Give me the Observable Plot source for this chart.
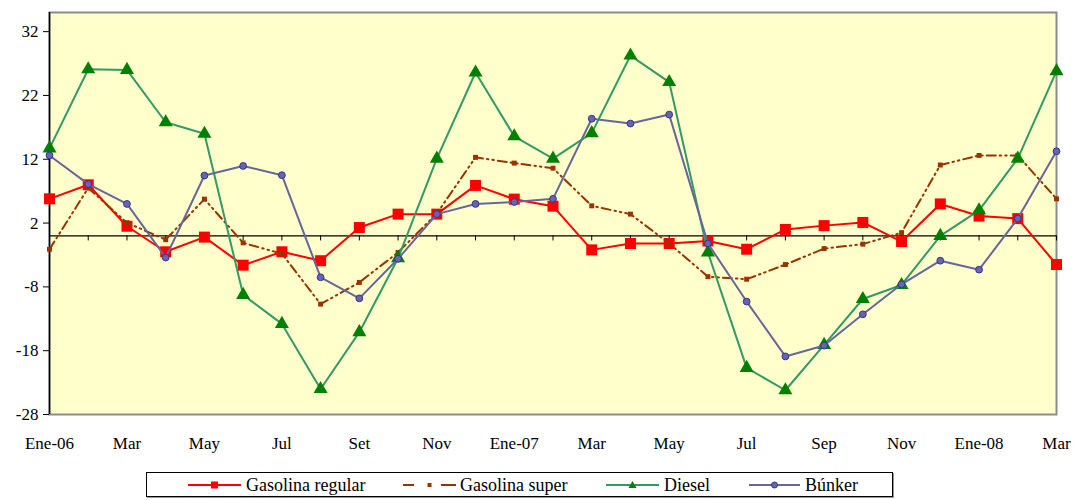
<!DOCTYPE html>
<html>
<head>
<meta charset="utf-8">
<script src="https://cdn.jsdelivr.net/npm/d3@7"></script>
<script src="https://cdn.jsdelivr.net/npm/@observablehq/plot@0.6"></script>
<style>
  body { margin: 0; background: white; }
  #wrap { position: relative; width: 1073px; height: 500px; font-family: 'Liberation Serif', 'Times New Roman', serif; }
  #legend { position: absolute; left: 146px; top: 472px; width: 747px; height: 25px; box-sizing: border-box; border: 1px solid black; box-shadow: 1px 1px 0 #999; background: white; }
  .sw { position: absolute; top: 479px; }
  .lt { position: absolute; top: 474px; font-size: 18px; line-height: 22px; color: black; white-space: nowrap; }
</style>
</head>
<body>
<div id="wrap">
  <div id="chart"></div>
  <div id="legend"></div>
  <svg class="sw" style="left:188px" width="53" height="12"><line x1="0" y1="6" x2="53" y2="6" stroke="#FF0000" stroke-width="2"/><rect x="23" y="2.5" width="7" height="7" fill="#FF0000"/></svg>
  <div class="lt" style="left:246px">Gasolina regular</div>
  <svg class="sw" style="left:403px" width="53" height="12"><line x1="0" y1="6" x2="11" y2="6" stroke="#993300" stroke-width="2"/><rect x="24.5" y="4" width="4" height="4" fill="#993300"/><line x1="38" y1="6" x2="53" y2="6" stroke="#993300" stroke-width="2"/></svg>
  <div class="lt" style="left:460px">Gasolina super</div>
  <svg class="sw" style="left:606px" width="53" height="12"><line x1="0" y1="6" x2="53" y2="6" stroke="#339966" stroke-width="2"/><path d="M26.5,2 L30.5,9 L22.5,9 Z" fill="#008000"/></svg>
  <div class="lt" style="left:664px">Diesel</div>
  <svg class="sw" style="left:749px" width="53" height="12"><line x1="0" y1="6" x2="51" y2="6" stroke="#666699" stroke-width="2"/><circle cx="25.5" cy="6" r="3" fill="#6666AA" stroke="#333399" stroke-width="1"/></svg>
  <div class="lt" style="left:805px">Búnker</div>
</div>
<script>
const months = ["Ene-06","Feb","Mar","Abr","May","Jun","Jul","Ago","Set","Oct","Nov","Dic",
                "Ene-07","Feb","Mar","Abr","May","Jun","Jul","Ago","Sep","Oct","Nov","Dic",
                "Ene-08","Feb","Mar"];
const tickIndex = [0,2,4,6,8,10,12,14,16,18,20,22,24,26];
const tickLabels = ["Ene-06","Mar","May","Jul","Set","Nov","Ene-07","Mar","May","Jul","Sep","Nov","Ene-08","Mar"];
const yTicks = [-28,-18,-8,2,12,22,32];

const gasolinaRegular = [5.8, 8.0, 1.5, -2.5, -0.2, -4.6, -2.5, -3.9, 1.3, 3.4, 3.4, 7.9, 5.75, 4.65, -2.2, -1.2, -1.2, -0.8, -2.1, 1.0, 1.6, 2.1, -0.9, 5.0, 3.1, 2.7, -4.5];
const gasolinaSuper   = [-2.1, 7.5, 2.05, -0.6, 5.75, -1.1, -2.8, -10.7, -7.3, -2.6, 3.5, 12.3, 11.4, 10.6, 4.7, 3.4, -1.2, -6.4, -6.8, -4.5, -2.0, -1.3, 0.5, 11.1, 12.6, 12.6, 5.8];
const diesel          = [13.7, 26.1, 26.0, 17.8, 16.0, -9.25, -13.8, -24.0, -15.1, -3.5, 12.1, 25.6, 15.6, 12.1, 16.1, 28.25, 24.1, -2.6, -20.7, -24.2, -17.1, -9.9, -7.7, 0.0, 4.0, 12.1, 25.8];
const bunker          = [12.6, 8.1, 5.0, -3.4, 9.45, 10.95, 9.5, -6.5, -9.8, -3.6, 3.4, 5.0, 5.3, 5.8, 18.35, 17.6, 19.0, -1.2, -10.3, -18.9, -17.2, -12.3, -7.6, -3.9, -5.3, 2.7, 13.25];

const rows = arr => arr.map((v, i) => ({i, m: months[i], v}));
const idx = months.map((m, i) => i);

const chart = Plot.plot({
  width: 1073,
  height: 462,
  marginLeft: 49,
  marginRight: 17,
  marginTop: 12,
  marginBottom: 48,
  style: {fontFamily: "'Liberation Serif', 'Times New Roman', serif", fontSize: "17px", color: "black", background: "white"},
  x: {domain: [0, 26]},
  y: {domain: [-28, 35]},
  marks: [
    Plot.frame({fill: "#FFFFCC", stroke: "#8c8c8c", strokeWidth: 2}),
    Plot.ruleY([0], {stroke: "black", strokeWidth: 1.2}),
    Plot.ruleX(idx, {x: d => d, y1: 0, y2: -0.8, stroke: "black"}),
    Plot.ruleX([0], {y1: -28, y2: 35, stroke: "black", strokeWidth: 1.5}),
    Plot.axisY({ticks: yTicks, tickSize: 6, tickPadding: 5, tickFormat: d => String(d), label: null}),
    Plot.axisX({ticks: tickIndex, tickFormat: i => tickLabels[tickIndex.indexOf(i)], tickSize: 0, tickPadding: 22, label: null}),
    Plot.line(rows(gasolinaRegular), {x: "i", y: "v", stroke: "#FF0000", strokeWidth: 2}),
    Plot.dot(rows(gasolinaRegular), {x: "i", y: "v", symbol: "square", r: 6.2, fill: "#FF0000"}),
    Plot.line(rows(gasolinaSuper), {x: "i", y: "v", stroke: "#993300", strokeWidth: 2, strokeDasharray: "9,4,1.5,4,1.5,4"}),
    Plot.dot(rows(gasolinaSuper), {x: "i", y: "v", symbol: "square", r: 2.8, fill: "#993300"}),
    Plot.line(rows(diesel), {x: "i", y: "v", stroke: "#339966", strokeWidth: 2}),
    Plot.dot(rows(diesel), {x: "i", y: "v", symbol: "triangle", r: 5.2, fill: "#008000"}),
    Plot.line(rows(bunker), {x: "i", y: "v", stroke: "#666699", strokeWidth: 2}),
    Plot.dot(rows(bunker), {x: "i", y: "v", r: 3.4, fill: "#6666AA", stroke: "#333399", strokeWidth: 1})
  ]
});
document.getElementById("chart").appendChild(chart);
</script>
</body>
</html>
